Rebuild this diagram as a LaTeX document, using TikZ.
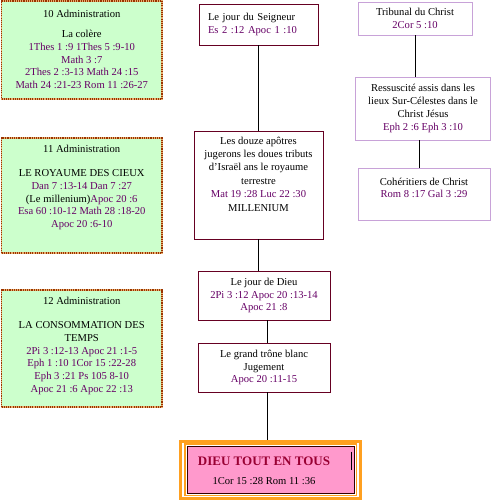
\documentclass[tikz,border=0pt]{standalone}
\usepackage{fontspec}
\setmainfont{Liberation Serif}
\usetikzlibrary{positioning}
\definecolor{leaf}{HTML}{CCFFCC}
\definecolor{rust}{HTML}{993300}
\definecolor{sand}{HTML}{E8B070}
\definecolor{wine}{HTML}{660022}
\definecolor{plum}{HTML}{660066}
\definecolor{lilac}{HTML}{C8A2D8}
\definecolor{flame}{HTML}{FFA020}
\definecolor{rose}{HTML}{FF99CC}
\definecolor{deepred}{HTML}{990033}
\newcommand{\rf}[1]{{\color{plum}#1}}

\begin{document}
\begin{tikzpicture}[x=1pt,y=-1pt,
    every node/.style={font=\fontsize{10.6}{12.8}\selectfont, inner sep=0pt},
    admbox/.style={draw=sand, fill=leaf, line width=1.6pt,
      postaction={draw=rust, line width=1.6pt, dash pattern=on 1.1pt off 1.1pt}},
    ctrbox/.style={draw=wine, fill=white, line width=0.9pt},
    rgtbox/.style={draw=lilac, fill=white, line width=0.9pt},
    txt/.style={align=center},
    link/.style={draw=black, line width=0.8pt}]
  \useasboundingbox (0,0) rectangle (492,500);

  % administrations (left)
  \node[admbox, minimum width=160.5, minimum height=98] (adm10) at (81.75,50) {};
  \node[txt, below=10pt of adm10.north] (adm10t) {10 Administration\\[7pt]
    La colère\\ \rf{1Thes 1 :9 1Thes 5 :9-10}\\ \rf{Math 3 :7}\\
    \rf{2Thes 2 :3-13 Math 24 :15}\\ \rf{Math 24 :21-23 Rom 11 :26-27}};

  \node[admbox, minimum width=160.5, minimum height=115] (adm11) at (81.75,195.5) {};
  \node[txt, below=8pt of adm11.north] (adm11t) {11 Administration\\[11pt]
    LE ROYAUME DES CIEUX\\ \rf{Dan 7 :13-14 Dan 7 :27}\\ (Le millenium)\rf{Apoc 20 :6}\\
    \rf{Esa 60 :10-12 Math 28 :18-20}\\ \rf{Apoc 20 :6-10}};

  \node[admbox, minimum width=160.5, minimum height=117] (adm12) at (81.75,348.5) {};
  \node[txt, below=8pt of adm12.north] (adm12t) {12 Administration\\[11pt]
    LA CONSOMMATION DES\\ TEMPS\\ \rf{2Pi 3 :12-13 Apoc 21 :1-5}\\
    \rf{Eph 1 :10 1Cor 15 :22-28}\\ \rf{Eph 3 :21 Ps 105 8-10}\\ \rf{Apoc 21 :6 Apoc 22 :13}};

  % central column
  \node[ctrbox, minimum width=119, minimum height=41, align=left, text width=101]
    (seigneur) at (258.5,24.5) {Le jour du Seigneur\\ \rf{Es 2 :12 Apoc 1 :10}};

  \node[ctrbox, minimum width=129, minimum height=108] (apotres) at (258.5,185) {};
  \node[txt, below=6pt of apotres.north, font=\fontsize{10.6}{13.4}\selectfont] (apotrest)
    {Les douze apôtres\\ jugerons les doues tributs\\ d’Israël ans le royaume\\ terrestre\\
     \rf{Mat 19 :28 Luc 22 :30}\\ MILLENIUM};

  \node[ctrbox, minimum width=132, minimum height=49, txt] (jourdieu) at (264,295.5)
    {Le jour de Dieu\\ \rf{2Pi 3 :12 Apoc 20 :13-14}\\ \rf{Apoc 21 :8}};

  \node[ctrbox, minimum width=132, minimum height=49, txt] (trone) at (264,367.5)
    {Le grand trône blanc\\ Jugement\\ \rf{Apoc 20 :11-15}};

  \node[draw=black!80!red, fill=rose, line width=1pt, minimum width=167, minimum height=47]
    (fin) at (270.5,469.5) {};
  \draw[flame, line width=3pt] ([shift={(-6.5,-4.5)}]fin.north west) rectangle ([shift={(5.5,4.5)}]fin.south east);
  \draw[flame, line width=1.6pt] ([shift={(-1.8,-1.8)}]fin.north west) rectangle ([shift={(1.8,1.8)}]fin.south east);
  \node[txt, font=\fontsize{10.6}{19}\selectfont] (fint) at (264,471)
    {{\fontsize{13}{15}\selectfont\bfseries\color{deepred}DIEU TOUT EN TOUS}\\ 1Cor 15 :28 Rom 11 :36};
  \draw[line width=0.8pt] ([shift={(-3,6)}]fin.north east) -- ([shift={(-3,24)}]fin.north east);
  \coordinate (frametop) at ([xshift=-3.5pt, yshift=5.5pt]fin.north);

  % right column
  \node[rgtbox, minimum width=114, minimum height=33, txt] (tribunal) at (415,18.5)
    {Tribunal du Christ\\ \rf{2Cor 5 :10}};
  \node[rgtbox, minimum width=135, minimum height=63, txt] (ressuscite) at (423,108.5)
    {Ressuscité assis dans les\\ lieux Sur-Célestes dans le\\ Christ Jésus\\ \rf{Eph 2 :6 Eph 3 :10}};
  \node[rgtbox, minimum width=132, minimum height=52] (coheritiers) at (424,194) {};
  \node[txt, below=10pt of coheritiers.north] (coheritierst)
    {Cohéritiers de Christ\\ \rf{Rom 8 :17 Gal 3 :29}};

  % connectors
  \draw[link] (seigneur) -- (apotres);
  \draw[link] (apotres.south) -- (apotres.south |- jourdieu.north);
  \draw[link] ([xshift=3pt]jourdieu.south) -- ([xshift=3pt]trone.north);
  \draw[link] ([xshift=3pt]trone.south) -- (frametop);
  \draw[link] (tribunal.south) -- (tribunal.south |- ressuscite.north);
  \draw[link] ([xshift=-4pt]ressuscite.south) -- ([xshift=-4pt]ressuscite.south |- coheritiers.north);
\end{tikzpicture}
\end{document}
